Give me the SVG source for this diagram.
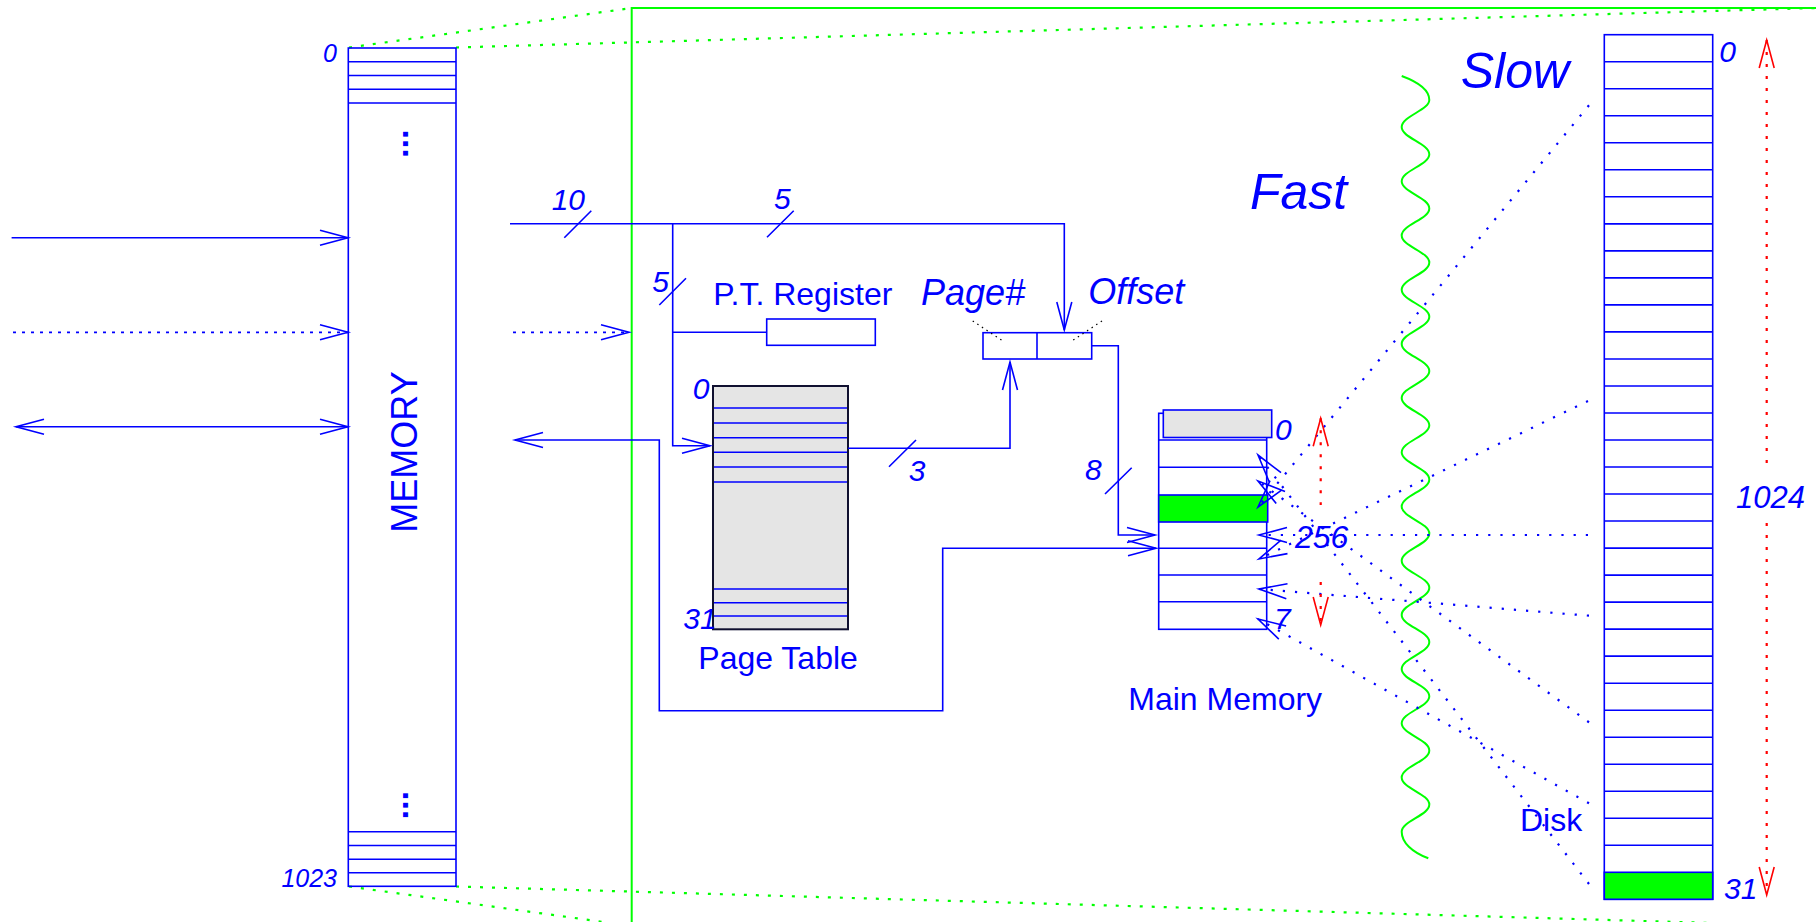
<svg xmlns="http://www.w3.org/2000/svg" width="1816" height="922" viewBox="0 0 1816 922">
<defs>
<style>
.b{stroke:#0000ff;stroke-width:1.6;fill:none}
.dot{stroke:#0000ff;stroke-width:2.2;fill:none;stroke-dasharray:2.2 10}
.dotl{stroke:#0000ff;stroke-width:1.8;fill:none;stroke-dasharray:3 6}
.rd{stroke:#ff0000;stroke-width:2.2;fill:none;stroke-dasharray:3 9}
.g{stroke:#00ff00;stroke-width:2;fill:none}
.gd{stroke:#00ff00;stroke-width:2.2;fill:none;stroke-dasharray:3 9}
.kd{stroke:#000000;stroke-width:1.2;fill:none;stroke-dasharray:1.5 4}
.t{font-family:"Liberation Sans",Arial,sans-serif;fill:#0000ff}
.i{font-style:italic}
</style>
<marker id="ah" markerUnits="userSpaceOnUse" markerWidth="40" markerHeight="20" refX="0" refY="0" orient="auto-start-reverse" overflow="visible">
<path d="M-28,-7.5 L0,0 L-28,7.5" fill="none" stroke="#0000ff" stroke-width="1.6"/>
</marker>
<marker id="ahr" markerUnits="userSpaceOnUse" markerWidth="40" markerHeight="20" refX="0" refY="0" orient="auto-start-reverse" overflow="visible">
<path d="M-28,-7.5 L0,0 L-28,7.5" fill="none" stroke="#ff0000" stroke-width="1.6"/>
</marker>
</defs>
<rect width="1816" height="922" fill="#ffffff"/>

<g id="zoom-frame">
<path class="g" d="M631.7,922 V8 H1816"/>
<line class="gd" x1="349" y1="47.5" x2="631.7" y2="8"/>
<line class="gd" x1="456" y1="47.5" x2="1816" y2="8"/>
<line class="gd" x1="349" y1="886.5" x2="632" y2="926"/>
<line class="gd" x1="456" y1="886.5" x2="1816" y2="926"/>
</g>

<g id="memory">
<rect class="b" x="348.3" y="48" width="107.7" height="838.3"/>
<path class="b" d="M348.3,61.7H456M348.3,75.5H456M348.3,89.2H456M348.3,103H456M348.3,831.7H456M348.3,845.5H456M348.3,859.2H456M348.3,872.8H456"/>
<text class="t" font-weight="bold" font-size="34" transform="translate(402.5,129.5) rotate(90)">...</text>
<text class="t" font-weight="bold" font-size="34" transform="translate(402.5,791) rotate(90)">...</text>
<text class="t" font-size="36" transform="translate(416.7,532.7) rotate(-90)">MEMORY</text>
<text class="t i" font-size="25" x="337" y="62" text-anchor="end">0</text>
<text class="t i" font-size="25" x="337" y="886.5" text-anchor="end">1023</text>
</g>

<g id="pt-register">
<rect class="b" x="766.7" y="319" width="108.6" height="26.3"/>
<text class="t" font-size="32" x="713.3" y="305">P.T. Register</text>
</g>

<g id="page-table">
<rect x="713" y="386" width="135" height="243.3" fill="#e5e5e5" stroke="#101030" stroke-width="2"/>
<path class="b" d="M714,408H847M714,423H847M714,437.7H847M714,452.3H847M714,467H847M714,482H847M714,589H847M714,602.7H847M714,616H847"/>
<text class="t i" font-size="30" x="692.7" y="399.3">0</text>
<text class="t i" font-size="30" x="683.3" y="629.3">31</text>
<text class="t" font-size="32" x="698.3" y="669.3">Page Table</text>
</g>

<g id="address-register">
<rect class="b" x="983" y="332.7" width="108.7" height="26.3"/>
<line class="b" x1="1037" y1="332.7" x2="1037" y2="359"/>
<line class="kd" x1="972.7" y1="321" x2="1004" y2="341.7"/>
<line class="kd" x1="1102" y1="321" x2="1070.7" y2="341.7"/>
<text class="t i" font-size="36" x="921" y="305">Page#</text>
<text class="t i" font-size="36" x="1088.3" y="304">Offset</text>
</g>

<g id="main-memory">
<rect class="b" x="1158.7" y="413.3" width="108" height="216"/>
<rect x="1163.3" y="410" width="108.4" height="27.5" fill="#e5e5e5" stroke="#0000ff" stroke-width="1.6"/>
<rect x="1158.7" y="495" width="109" height="27" fill="#00ff00" stroke="#0000ff" stroke-width="1.6"/>
<path class="b" d="M1158.7,440H1266.7M1158.7,467.3H1266.7M1158.7,548.3H1266.7M1158.7,575H1266.7M1158.7,601.7H1266.7"/>
<text class="t i" font-size="30" x="1275" y="440">0</text>
<text class="t i" font-size="30" x="1274" y="629.3">7</text>
<text class="t i" font-size="32" x="1295" y="548.3">256</text>
<text class="t" font-size="32" x="1128.3" y="710">Main Memory</text>
</g>

<g id="disk">
<rect class="b" x="1604.3" y="34.7" width="108.4" height="864.6"/>
<rect x="1604.3" y="872.3" width="108.4" height="27" fill="#00ff00" stroke="#0000ff" stroke-width="1.6"/>
<path class="b" d="M1604.3,61.72H1712.7M1604.3,88.74H1712.7M1604.3,115.76H1712.7M1604.3,142.78H1712.7M1604.3,169.8H1712.7M1604.3,196.82H1712.7M1604.3,223.84H1712.7M1604.3,250.86H1712.7M1604.3,277.88H1712.7M1604.3,304.9H1712.7M1604.3,331.92H1712.7M1604.3,358.94H1712.7M1604.3,385.96H1712.7M1604.3,412.98H1712.7M1604.3,440H1712.7M1604.3,467.02H1712.7M1604.3,494.04H1712.7M1604.3,521.06H1712.7M1604.3,548.08H1712.7M1604.3,575.1H1712.7M1604.3,602.12H1712.7M1604.3,629.14H1712.7M1604.3,656.16H1712.7M1604.3,683.18H1712.7M1604.3,710.2H1712.7M1604.3,737.22H1712.7M1604.3,764.24H1712.7M1604.3,791.26H1712.7M1604.3,818.28H1712.7M1604.3,845.3H1712.7"/>
<text class="t i" font-size="30" x="1719.3" y="61.7">0</text>
<text class="t i" font-size="30" x="1724" y="899.3">31</text>
<text class="t i" font-size="31" x="1736" y="507.7">1024</text>
<text class="t" font-size="32" x="1520" y="830.7">Disk</text>
</g>

<g id="speed-boundary">
<path class="g" d="M1401.7,76 C1418,82 1429.3,90 1429.3,100 S1401.7,116.3 1401.7,127.1 S1429.3,143.4 1429.3,154.2 S1401.7,170.5 1401.7,181.3 S1429.3,197.6 1429.3,208.4 S1401.7,224.7 1401.7,235.5 S1429.3,251.8 1429.3,262.6 S1401.7,278.9 1401.7,289.7 S1429.3,306 1429.3,316.8 S1401.7,333.1 1401.7,343.9 S1429.3,360.2 1429.3,371 S1401.7,387.3 1401.7,398.1 S1429.3,414.4 1429.3,425.2 S1401.7,441.5 1401.7,452.3 S1429.3,468.6 1429.3,479.4 S1401.7,495.7 1401.7,506.5 S1429.3,522.8 1429.3,533.6 S1401.7,549.9 1401.7,560.7 S1429.3,577 1429.3,587.8 S1401.7,604.1 1401.7,614.9 S1429.3,631.2 1429.3,642 S1401.7,658.3 1401.7,669.1 S1429.3,685.4 1429.3,696.2 S1401.7,712.5 1401.7,723.3 S1429.3,739.6 1429.3,750.4 S1401.7,766.7 1401.7,777.5 S1429.3,793.8 1429.3,804.6 S1401.7,820.9 1401.7,831.7 C1401.7,842.5 1412,852 1428.3,858.3"/>
<text class="t i" font-size="50" x="1250" y="209.3">Fast</text>
<text class="t i" font-size="50" x="1460.7" y="88.3">Slow</text>
</g>

<g id="connectors">
<line class="b" x1="11.6" y1="237.7" x2="348" y2="237.7" marker-end="url(#ah)"/>
<line class="dotl" x1="13" y1="332.3" x2="348" y2="332.3" marker-end="url(#ah)"/>
<line class="b" x1="16" y1="426.7" x2="348" y2="426.7" marker-start="url(#ah)" marker-end="url(#ah)"/>
<path class="b" d="M510,223.7 H1064.3 V330" marker-end="url(#ah)"/>
<path class="b" d="M672.7,223.7 V445.7 H710" marker-end="url(#ah)"/>
<path class="b" d="M672.7,332.3 H766.7"/>
<line class="dotl" x1="513" y1="332.3" x2="629" y2="332.3" marker-end="url(#ah)"/>
<path class="b" d="M1156,548.3 H942.7 V710.7 H659.3 V440 H515" marker-start="url(#ah)" marker-end="url(#ah)"/>
<path class="b" d="M848,448.3 H1010 V362" marker-end="url(#ah)"/>
<path class="b" d="M1091.7,345.7 H1118.3 V535 H1155" marker-end="url(#ah)"/>
<path class="b" d="M564.3,237.7 L591.3,210.7 M767,237.3 L793.7,210.7 M659.3,305 L686,278.3 M889,466.7 L916,440 M1105,494 L1131.7,467.7"/>
<text class="t i" font-size="30" x="551.7" y="210">10</text>
<text class="t i" font-size="30" x="774" y="209">5</text>
<text class="t i" font-size="30" x="652.3" y="291.7">5</text>
<text class="t i" font-size="30" x="908.7" y="480.7">3</text>
<text class="t i" font-size="30" x="1085" y="480">8</text>
<line class="dot" x1="1589" y1="884" x2="1258" y2="455" marker-end="url(#ah)"/>
<line class="dot" x1="1589" y1="722.3" x2="1258" y2="481" marker-end="url(#ah)"/>
<line class="dot" x1="1589" y1="105.3" x2="1258" y2="507" marker-end="url(#ah)"/>
<line class="dot" x1="1588" y1="535" x2="1259" y2="535" marker-end="url(#ah)"/>
<line class="dot" x1="1588" y1="401" x2="1259" y2="559" marker-end="url(#ah)"/>
<line class="dot" x1="1589" y1="615.7" x2="1259" y2="589" marker-end="url(#ah)"/>
<line class="dot" x1="1589" y1="803.3" x2="1258" y2="619" marker-end="url(#ah)"/>
<line class="rd" x1="1320.7" y1="418.3" x2="1320.7" y2="505" marker-start="url(#ahr)"/>
<line class="rd" x1="1320.7" y1="582" x2="1320.7" y2="625" marker-end="url(#ahr)"/>
<line class="rd" x1="1766.7" y1="40" x2="1766.7" y2="467" marker-start="url(#ahr)"/>
<line class="rd" x1="1766.7" y1="523" x2="1766.7" y2="895" marker-end="url(#ahr)"/>
</g>
</svg>
